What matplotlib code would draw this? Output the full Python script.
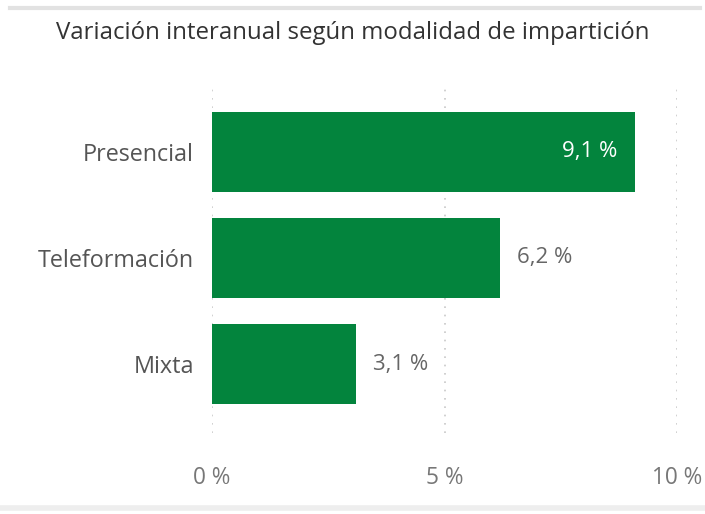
import matplotlib
matplotlib.use("Agg")
import matplotlib.pyplot as plt
from matplotlib.lines import Line2D

categorias = ["Presencial", "Teleformación", "Mixta"]
valores = [9.1, 6.2, 3.1]
etiquetas = ["9,1 %", "6,2 %", "3,1 %"]
ticks = [0, 5, 10]
tick_labels = ["0 %", "5 %", "10 %"]

VERDE = "#03843D"
plt.rcParams["font.family"] = ["Open Sans", "DejaVu Sans"]

fig = plt.figure(figsize=(7.05, 5.14), dpi=100)
ax = fig.add_axes([212 / 705, 1 - 433 / 514, (677 - 212) / 705, 350 / 514])

ypos = list(range(len(categorias)))
ax.barh(ypos, valores, height=0.75, color=VERDE, zorder=2)
ax.set_xlim(0, 10)
ax.set_ylim(2.65, -0.65)

for y, v, lab in zip(ypos, valores, etiquetas):
    if v > 8:
        ax.text(v - 0.38, y, lab, ha="right", va="center", color="white", fontsize=16)
    else:
        ax.text(v + 0.36, y, lab, ha="left", va="center", color="#666666", fontsize=16)

ax.set_yticks(ypos)
ax.set_yticklabels(categorias, fontsize=16.8, color="#555555")
ax.set_xticks(ticks)
ax.set_xticklabels(tick_labels, fontsize=16.3, color="#777777")
ax.tick_params(length=0)
ax.tick_params(axis="y", pad=13)
ax.tick_params(axis="x", pad=24)
ax.grid(axis="x", linestyle=(0, (1, 4)), color="#c8c8c8", lw=1.2, zorder=0)
for s in ax.spines.values():
    s.set_visible(False)

fig.text(0.5, 1 - 33 / 514, "Variación interanual según modalidad de impartición",
         ha="center", va="center", fontsize=17.3, color="#333333")

fig.add_artist(Line2D([10 / 705, 700 / 705], [1 - 8 / 514] * 2, color="#e2e2e2", lw=3))
fig.add_artist(Line2D([0, 1], [1 - 508 / 514] * 2, color="#eeeeee", lw=4))

fig.savefig("out.png", dpi=100)
